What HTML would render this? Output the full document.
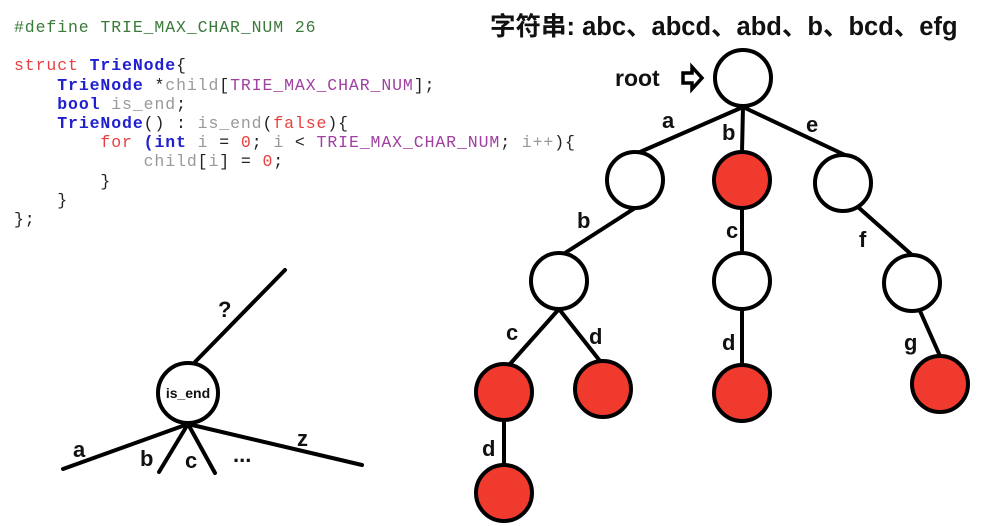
<!DOCTYPE html>
<html><head><meta charset="utf-8"><style>
body{margin:0;background:#fff;width:986px;height:526px;overflow:hidden;position:relative}
pre{position:absolute;left:14px;top:18px;margin:0;font-family:"Liberation Mono",monospace;font-size:16.5px;letter-spacing:0.9px;line-height:19.2px;color:#999}
.g{color:#3a7a3a}.r{color:#e84040}.b{color:#2020d0;font-weight:bold}.m{color:#a040a0}.k{color:#222}
svg{position:absolute;left:0;top:0}
svg text{font-family:"Liberation Sans","Noto Sans CJK SC",sans-serif;font-weight:bold;fill:#111}
</style></head><body>
<pre><span class="g">#define TRIE_MAX_CHAR_NUM 26</span>

<span class="r">struct</span> <span class="b">TrieNode</span><span class="k">{</span>
    <span class="b">TrieNode</span> <span class="k">*</span>child<span class="k">[</span><span class="m">TRIE_MAX_CHAR_NUM</span><span class="k">];</span>
    <span class="b">bool</span> is_end<span class="k">;</span>
    <span class="b">TrieNode</span><span class="k">() :</span> is_end<span class="k">(</span><span class="r">false</span><span class="k">){</span>
        <span class="r">for</span> <span class="b">(int</span> i <span class="k">=</span> <span class="r">0</span><span class="k">;</span> i <span class="k">&lt;</span> <span class="m">TRIE_MAX_CHAR_NUM</span><span class="k">;</span> i++<span class="k">){</span>
            child<span class="k">[</span>i<span class="k">] =</span> <span class="r">0</span><span class="k">;</span>
        <span class="k">}</span>
    <span class="k">}</span>
<span class="k">};</span></pre>
<svg width="986" height="526" viewBox="0 0 986 526">
<g stroke="#000" stroke-width="4" fill="none" stroke-linecap="round">
<line x1="743" y1="107" x2="640" y2="152"/>
<line x1="743" y1="107" x2="742" y2="152"/>
<line x1="743" y1="107" x2="845" y2="155"/>
<line x1="635" y1="208" x2="565" y2="253"/>
<line x1="742" y1="208" x2="742" y2="253"/>
<line x1="858" y1="207" x2="912" y2="255"/>
<line x1="559" y1="309" x2="510" y2="364"/>
<line x1="559" y1="309" x2="600" y2="361"/>
<line x1="742" y1="309" x2="742" y2="365"/>
<line x1="920" y1="311" x2="940" y2="356"/>
<line x1="504" y1="420" x2="504" y2="465"/>
<line x1="195" y1="362" x2="285" y2="270"/>
<line x1="188" y1="424" x2="63" y2="469"/>
<line x1="188" y1="424" x2="159" y2="472"/>
<line x1="188" y1="424" x2="215" y2="473"/>
<line x1="188" y1="424" x2="362" y2="465"/>
</g>
<g stroke="#000" stroke-width="4">
<circle cx="743" cy="78" r="28" fill="#fff"/>
<circle cx="635" cy="180" r="28" fill="#fff"/>
<circle cx="742" cy="180" r="28" fill="#f03a2e"/>
<circle cx="843" cy="183" r="28" fill="#fff"/>
<circle cx="559" cy="281" r="28" fill="#fff"/>
<circle cx="742" cy="281" r="28" fill="#fff"/>
<circle cx="912" cy="283" r="28" fill="#fff"/>
<circle cx="504" cy="392" r="28" fill="#f03a2e"/>
<circle cx="603" cy="389" r="28" fill="#f03a2e"/>
<circle cx="742" cy="393" r="28" fill="#f03a2e"/>
<circle cx="940" cy="384" r="28" fill="#f03a2e"/>
<circle cx="504" cy="493" r="28" fill="#f03a2e"/>
<circle cx="188" cy="393" r="30" fill="#fff"/>
</g>
<path d="M683,73 h9 v-6 l10,11 l-10,11 v-6 h-9 z" fill="none" stroke="#000" stroke-width="3.5"/>
<text x="490" y="35" font-size="25.5">字符串: abc、abcd、abd、b、bcd、efg</text>
<text x="615" y="86" font-size="23">root</text>
<g font-size="22">
<text x="662" y="128">a</text><text x="722" y="140">b</text><text x="806" y="132">e</text>
<text x="577" y="228">b</text><text x="726" y="238">c</text><text x="859" y="247">f</text>
<text x="506" y="340">c</text><text x="589" y="344">d</text><text x="722" y="350">d</text><text x="904" y="350">g</text>
<text x="482" y="456">d</text>
<text x="218" y="317">?</text>
<text x="73" y="457">a</text><text x="140" y="466">b</text><text x="185" y="468">c</text>
<text x="233" y="462">...</text><text x="297" y="446">z</text>
</g>
<text x="188" y="398" font-size="14" text-anchor="middle">is_end</text>
</svg>
</body></html>
